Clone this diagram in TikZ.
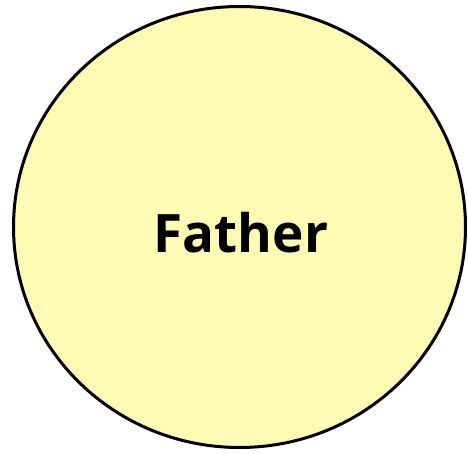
\documentclass[tikz,border=0pt]{standalone}
\usepackage{fontspec}
\setmainfont{Open Sans}
\usetikzlibrary{shapes.geometric, positioning}
\definecolor{mydark}{RGB}{0,0,0}
\definecolor{hdryellow}{RGB}{255,250,180}
\tikzset{
  person/.style={ellipse, draw=mydark, fill=hdryellow,
    minimum width=452pt, minimum height=441pt, inner sep=0pt,
    line width=3pt},
  personlabel/.style={font=\fontsize{53}{58}\selectfont\bfseries}
}

\begin{document}
\begin{tikzpicture}[x=1pt, y=1pt]
  \useasboundingbox (0,0) rectangle (468,453);
  \node[person] (father) at (239.5,226) {};
  \node[personlabel] (fatherlabel) at (241,220) {Father};
\end{tikzpicture}
\end{document}
